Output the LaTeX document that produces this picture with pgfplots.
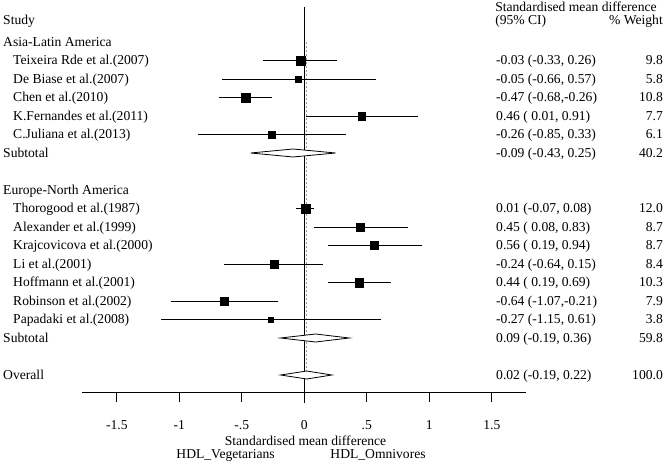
\documentclass[border=0pt]{standalone}
\usepackage{pgfplots}
\pgfplotsset{compat=1.18}
\usepackage{pgfplotstable}
\usepackage{fontspec}
\setmainfont{Liberation Serif}

% study rows: row, estimate, lower, upper, half-side of square (from weight)
\pgfplotstableread{
row est lo hi ms
1 -0.03 -0.33 0.26 4.23
2 -0.05 -0.66 0.57 3.25
3 -0.47 -0.68 -0.26 4.44
4 0.46 0.01 0.91 3.75
5 -0.26 -0.85 0.33 3.33
9 0.01 -0.07 0.08 4.68
10 0.45 0.08 0.83 3.98
11 0.56 0.19 0.94 3.98
12 -0.24 -0.64 0.15 3.91
13 0.44 0.19 0.69 4.33
14 -0.64 -1.07 -0.21 3.79
15 -0.27 -1.15 0.61 2.63
}\studies

\begin{document}
\begin{tikzpicture}[font=\fontsize{13.6bp}{16bp}\selectfont,
  every node/.append style={inner sep=0pt},
  L/.style={anchor=base west}, R/.style={anchor=base east}, C/.style={anchor=base}]
\begin{axis}[
  scale only axis, width=670bp, height=465bp,
  xmin=-2.4344, xmax=2.9256, ymin=-2.270, ymax=22.865, y dir=reverse,
  axis lines=none, clip=false,
]
\path (rel axis cs:0,0) rectangle (rel axis cs:1,1);

% reference lines
\addplot[black, line width=0.9bp] coordinates {(0,-1.89) (0,19.5)};
\addplot[gray!80, line width=1.3bp, dash pattern=on 2bp off 2bp] coordinates {(0.02,0) (0.02,17.78)};

% x axis
\addplot[black, line width=0.9bp] coordinates {(-1.78,18.92) (1.774,18.92)};
\addplot[black, line width=0.9bp] coordinates {(-1.5,18.92) (-1.5,19.46)};
\addplot[black, line width=0.9bp] coordinates {(-1,18.92) (-1,19.46)};
\addplot[black, line width=0.9bp] coordinates {(-0.5,18.92) (-0.5,19.46)};
\addplot[black, line width=0.9bp] coordinates {(0.5,18.92) (0.5,19.46)};
\addplot[black, line width=0.9bp] coordinates {(1,18.92) (1,19.46)};
\addplot[black, line width=0.9bp] coordinates {(1.5,18.92) (1.5,19.46)};
\node[C] at (axis cs:-1.5,20.92) {-1.5};
\node[C] at (axis cs:-1,20.92) {-1};
\node[C] at (axis cs:-0.5,20.92) {-.5};
\node[C] at (axis cs:0,20.92) {0};
\node[C] at (axis cs:0.5,20.92) {.5};
\node[C] at (axis cs:1,20.92) {1};
\node[C] at (axis cs:1.5,20.92) {1.5};
\node[C] at (axis cs:0.01,21.79) {Standardised mean difference};
\node[C] at (axis cs:-0.63,22.49) {HDL\_Vegetarians};
\node[C] at (axis cs:0.59,22.49) {HDL\_Omnivores};

% confidence intervals and squares
\addplot[only marks, mark=square*, black,
  scatter, scatter/use mapped color={draw=black, fill=black},
  visualization depends on={\thisrow{ms} \as \perpointmarksize},
  scatter/@pre marker code/.append style={/tikz/mark size=\perpointmarksize},
  error bars/.cd, x dir=both, x explicit, error mark=none,
  error bar style={line width=0.9bp, black}]
  table[x=est, y=row,
        x error plus expr=\thisrow{hi}-\thisrow{est},
        x error minus expr=\thisrow{est}-\thisrow{lo}] {\studies};

% pooled diamonds
\addplot[black, fill=white, line width=0.8bp] coordinates
  {(-0.43,6) (-0.09,5.784) (0.25,6) (-0.09,6.216)} -- cycle;
\addplot[black, fill=white, line width=0.8bp] coordinates
  {(-0.19,16) (0.09,15.784) (0.36,16) (0.09,16.216)} -- cycle;
\addplot[black, fill=white, line width=0.8bp] coordinates
  {(-0.19,18) (0.02,17.784) (0.22,18) (0.02,18.216)} -- cycle;

% left labels
\node[L] at (axis cs:-2.410,-0.92) {Study};
\node[L] at (axis cs:-2.410,0.22) {Asia-Latin America};
\node[L] at (axis cs:-2.330,1.22) {Teixeira Rde et al.(2007)};
\node[L] at (axis cs:-2.330,2.22) {De Biase et al.(2007)};
\node[L] at (axis cs:-2.330,3.22) {Chen et al.(2010)};
\node[L] at (axis cs:-2.330,4.22) {K.Fernandes et al.(2011)};
\node[L] at (axis cs:-2.330,5.22) {C.Juliana et al.(2013)};
\node[L] at (axis cs:-2.410,6.22) {Subtotal};
\node[L] at (axis cs:-2.410,8.22) {Europe-North America};
\node[L] at (axis cs:-2.330,9.22) {Thorogood et al.(1987)};
\node[L] at (axis cs:-2.330,10.22) {Alexander et al.(1999)};
\node[L] at (axis cs:-2.330,11.22) {Krajcovicova et al.(2000)};
\node[L] at (axis cs:-2.330,12.22) {Li et al.(2001)};
\node[L] at (axis cs:-2.330,13.22) {Hoffmann et al.(2001)};
\node[L] at (axis cs:-2.330,14.22) {Robinson et al.(2002)};
\node[L] at (axis cs:-2.330,15.22) {Papadaki et al.(2008)};
\node[L] at (axis cs:-2.410,16.22) {Subtotal};
\node[L] at (axis cs:-2.410,18.22) {Overall};

% right columns
\node[L] at (axis cs:1.526,-1.67) {Standardised mean difference};
\node[L] at (axis cs:1.526,-0.92) {(95\% CI)};
\node[R] at (axis cs:2.8696,-0.92) {\% Weight};
\node[L] at (axis cs:1.5336,1.22) {-0.03 (-0.33, 0.26)};
\node[L] at (axis cs:1.5336,2.22) {-0.05 (-0.66, 0.57)};
\node[L] at (axis cs:1.5336,3.22) {-0.47 (-0.68,-0.26)};
\node[L] at (axis cs:1.5336,4.22) {0.46 ( 0.01, 0.91)};
\node[L] at (axis cs:1.5336,5.22) {-0.26 (-0.85, 0.33)};
\node[L] at (axis cs:1.5336,6.22) {-0.09 (-0.43, 0.25)};
\node[L] at (axis cs:1.5336,9.22) {0.01 (-0.07, 0.08)};
\node[L] at (axis cs:1.5336,10.22) {0.45 ( 0.08, 0.83)};
\node[L] at (axis cs:1.5336,11.22) {0.56 ( 0.19, 0.94)};
\node[L] at (axis cs:1.5336,12.22) {-0.24 (-0.64, 0.15)};
\node[L] at (axis cs:1.5336,13.22) {0.44 ( 0.19, 0.69)};
\node[L] at (axis cs:1.5336,14.22) {-0.64 (-1.07,-0.21)};
\node[L] at (axis cs:1.5336,15.22) {-0.27 (-1.15, 0.61)};
\node[L] at (axis cs:1.5336,16.22) {0.09 (-0.19, 0.36)};
\node[L] at (axis cs:1.5336,18.22) {0.02 (-0.19, 0.22)};
\node[R] at (axis cs:2.8696,1.22) {9.8};
\node[R] at (axis cs:2.8696,2.22) {5.8};
\node[R] at (axis cs:2.8696,3.22) {10.8};
\node[R] at (axis cs:2.8696,4.22) {7.7};
\node[R] at (axis cs:2.8696,5.22) {6.1};
\node[R] at (axis cs:2.8696,6.22) {40.2};
\node[R] at (axis cs:2.8696,9.22) {12.0};
\node[R] at (axis cs:2.8696,10.22) {8.7};
\node[R] at (axis cs:2.8696,11.22) {8.7};
\node[R] at (axis cs:2.8696,12.22) {8.4};
\node[R] at (axis cs:2.8696,13.22) {10.3};
\node[R] at (axis cs:2.8696,14.22) {7.9};
\node[R] at (axis cs:2.8696,15.22) {3.8};
\node[R] at (axis cs:2.8696,16.22) {59.8};
\node[R] at (axis cs:2.8696,18.22) {100.0};
\end{axis}
\end{tikzpicture}
\end{document}
